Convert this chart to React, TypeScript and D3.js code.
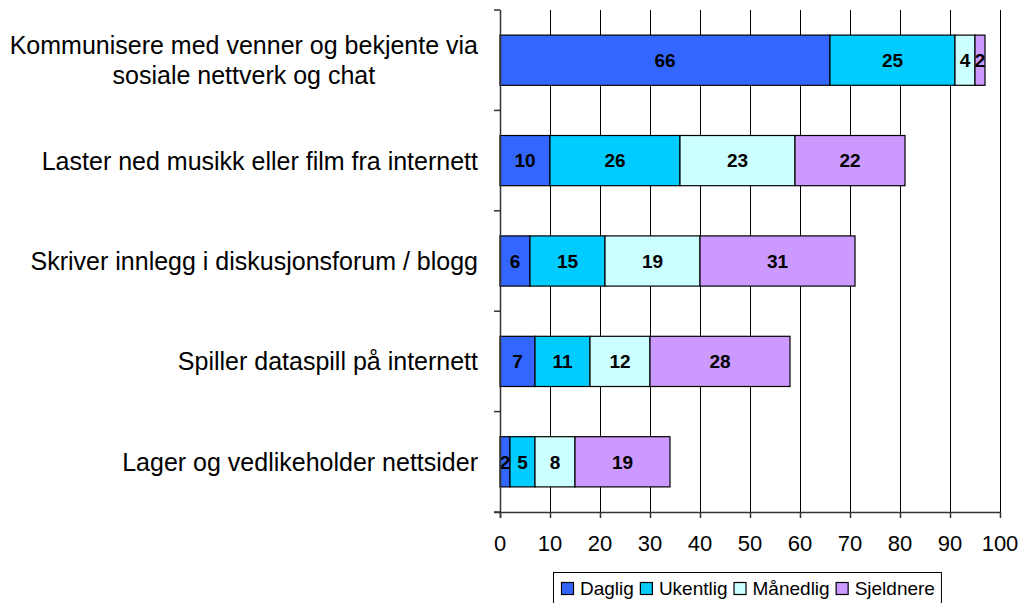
import React, { useEffect, useRef } from 'react';
import * as d3 from 'd3';

const categories = [
  'Kommunisere med venner og bekjente via\nsosiale nettverk og chat',
  'Laster ned musikk eller film fra internett',
  'Skriver innlegg i diskusjonsforum / blogg',
  'Spiller dataspill på internett',
  'Lager og vedlikeholder nettsider',
];
const seriesNames = ['Daglig', 'Ukentlig', 'Månedlig', 'Sjeldnere'];
const daglig = [66, 10, 6, 7, 2];
const ukentlig = [25, 26, 15, 11, 5];
const manedlig = [4, 23, 19, 12, 8];
const sjeldnere = [2, 22, 31, 28, 19];
const xTicks = [0, 10, 20, 30, 40, 50, 60, 70, 80, 90, 100];
const colors = ['#3366FF', '#00CCFF', '#CCFFFF', '#CC99FF'];

const FONT = '"Liberation Sans", Arial, sans-serif';

export default function App() {
  const svgRef = useRef<SVGSVGElement>(null);

  useEffect(() => {
    const svg = d3.select(svgRef.current);
    svg.selectAll('*').remove();

    const width = 1026;
    const height = 603;
    const margin = { top: 10, right: 26, bottom: 91, left: 500 };

    const rows = categories.map((c, i) => ({
      category: c,
      Daglig: daglig[i],
      Ukentlig: ukentlig[i],
      Månedlig: manedlig[i],
      Sjeldnere: sjeldnere[i],
    }));

    const x = d3.scaleLinear().domain([0, 100]).range([margin.left, width - margin.right]);
    const y = d3
      .scaleBand()
      .domain(categories)
      .range([margin.top, height - margin.bottom])
      .paddingInner(0.5)
      .paddingOuter(0.25);
    const color = d3.scaleOrdinal<string, string>().domain(seriesNames).range(colors);

    const plotBottom = height - margin.bottom;

    // gridlines
    svg
      .append('g')
      .selectAll('line')
      .data(xTicks.slice(1))
      .join('line')
      .attr('x1', (d) => x(d) + 0.5)
      .attr('x2', (d) => x(d) + 0.5)
      .attr('y1', margin.top)
      .attr('y2', plotBottom)
      .attr('stroke', '#000')
      .attr('stroke-width', 1);

    // bars
    const stacked = d3.stack<any>().keys(seriesNames)(rows);
    const layers = svg
      .append('g')
      .selectAll('g')
      .data(stacked)
      .join('g')
      .attr('fill', (d) => color(d.key));

    layers
      .selectAll('rect')
      .data((d) => d)
      .join('rect')
      .attr('x', (d) => x(d[0]))
      .attr('y', (d) => y(d.data.category)!)
      .attr('width', (d) => x(d[1]) - x(d[0]))
      .attr('height', y.bandwidth())
      .attr('stroke', '#000')
      .attr('stroke-width', 1.2);

    layers
      .selectAll('text')
      .data((d) => d)
      .join('text')
      .attr('x', (d) => (x(d[0]) + x(d[1])) / 2)
      .attr('y', (d) => y(d.data.category)! + y.bandwidth() / 2)
      .attr('dy', '0.36em')
      .attr('text-anchor', 'middle')
      .attr('font-family', FONT)
      .attr('font-weight', 'bold')
      .attr('font-size', 19)
      .attr('fill', '#000')
      .text((d) => d[1] - d[0]);

    // y axis
    const yAxis = svg.append('g');
    yAxis
      .append('line')
      .attr('x1', margin.left + 0.5)
      .attr('x2', margin.left + 0.5)
      .attr('y1', margin.top)
      .attr('y2', plotBottom + 6)
      .attr('stroke', '#333')
      .attr('stroke-width', 1.5);
    const step = y.step();
    const bounds = d3.range(categories.length + 1).map((i) => margin.top + i * step);
    yAxis
      .selectAll('line.tick')
      .data(bounds)
      .join('line')
      .attr('class', 'tick')
      .attr('x1', margin.left - 6)
      .attr('x2', margin.left)
      .attr('y1', (d) => d)
      .attr('y2', (d) => d)
      .attr('stroke', '#333')
      .attr('stroke-width', 1.5);

    // category labels
    const labelRight = 478;
    categories.forEach((c) => {
      const lines = c.split('\n');
      const cy = y(c)! + y.bandwidth() / 2;
      const lh = 30;
      const g = svg.append('g');
      const texts = lines.map((ln, i) =>
        g
          .append('text')
          .attr('y', cy + (i - (lines.length - 1) / 2) * lh)
          .attr('dy', '0.36em')
          .attr('font-family', FONT)
          .attr('font-size', 25)
          .attr('fill', '#000')
          .text(ln)
      );
      const widths = texts.map((t) => (t.node() as SVGTextElement).getComputedTextLength());
      const maxW = d3.max(widths) || 0;
      const center = labelRight - maxW / 2;
      texts.forEach((t) => t.attr('x', center).attr('text-anchor', 'middle'));
    });

    // x axis
    const xAxis = svg.append('g');
    xAxis
      .append('line')
      .attr('x1', margin.left - 6)
      .attr('x2', x(100) + 0.5)
      .attr('y1', plotBottom + 0.5)
      .attr('y2', plotBottom + 0.5)
      .attr('stroke', '#333')
      .attr('stroke-width', 1.5);
    xAxis
      .selectAll('line.tick')
      .data(xTicks)
      .join('line')
      .attr('class', 'tick')
      .attr('x1', (d) => x(d) + 0.5)
      .attr('x2', (d) => x(d) + 0.5)
      .attr('y1', plotBottom)
      .attr('y2', plotBottom + 6)
      .attr('stroke', '#333')
      .attr('stroke-width', 1.5);
    xAxis
      .selectAll('text')
      .data(xTicks)
      .join('text')
      .attr('x', (d) => x(d))
      .attr('y', 551)
      .attr('text-anchor', 'middle')
      .attr('font-family', FONT)
      .attr('font-size', 22)
      .attr('fill', '#000')
      .text((d) => d);

    // legend
    const legend = svg.append('g');
    const lx = 553;
    const ly = 572;
    const box = legend
      .append('rect')
      .attr('x', lx + 0.5)
      .attr('y', ly + 0.5)
      .attr('height', 40)
      .attr('fill', '#fff')
      .attr('stroke', '#000')
      .attr('stroke-width', 1);
    let cx = lx + 8;
    seriesNames.forEach((name, i) => {
      legend
        .append('rect')
        .attr('x', cx + 0.5)
        .attr('y', 582.5)
        .attr('width', 12)
        .attr('height', 12)
        .attr('fill', colors[i])
        .attr('stroke', '#000')
        .attr('stroke-width', 1.2);
      const t = legend
        .append('text')
        .attr('x', cx + 19)
        .attr('y', 595)
        .attr('font-family', FONT)
        .attr('font-size', 19)
        .attr('fill', '#000')
        .text(name);
      const w = (t.node() as SVGTextElement).getComputedTextLength();
      cx = cx + 19 + w + 6;
    });
    box.attr('width', cx - lx);
  }, []);

  return (
    <svg
      ref={svgRef}
      width={1026}
      height={603}
      style={{ position: 'absolute', left: 0, top: 0, background: '#fff' }}
    />
  );
}
